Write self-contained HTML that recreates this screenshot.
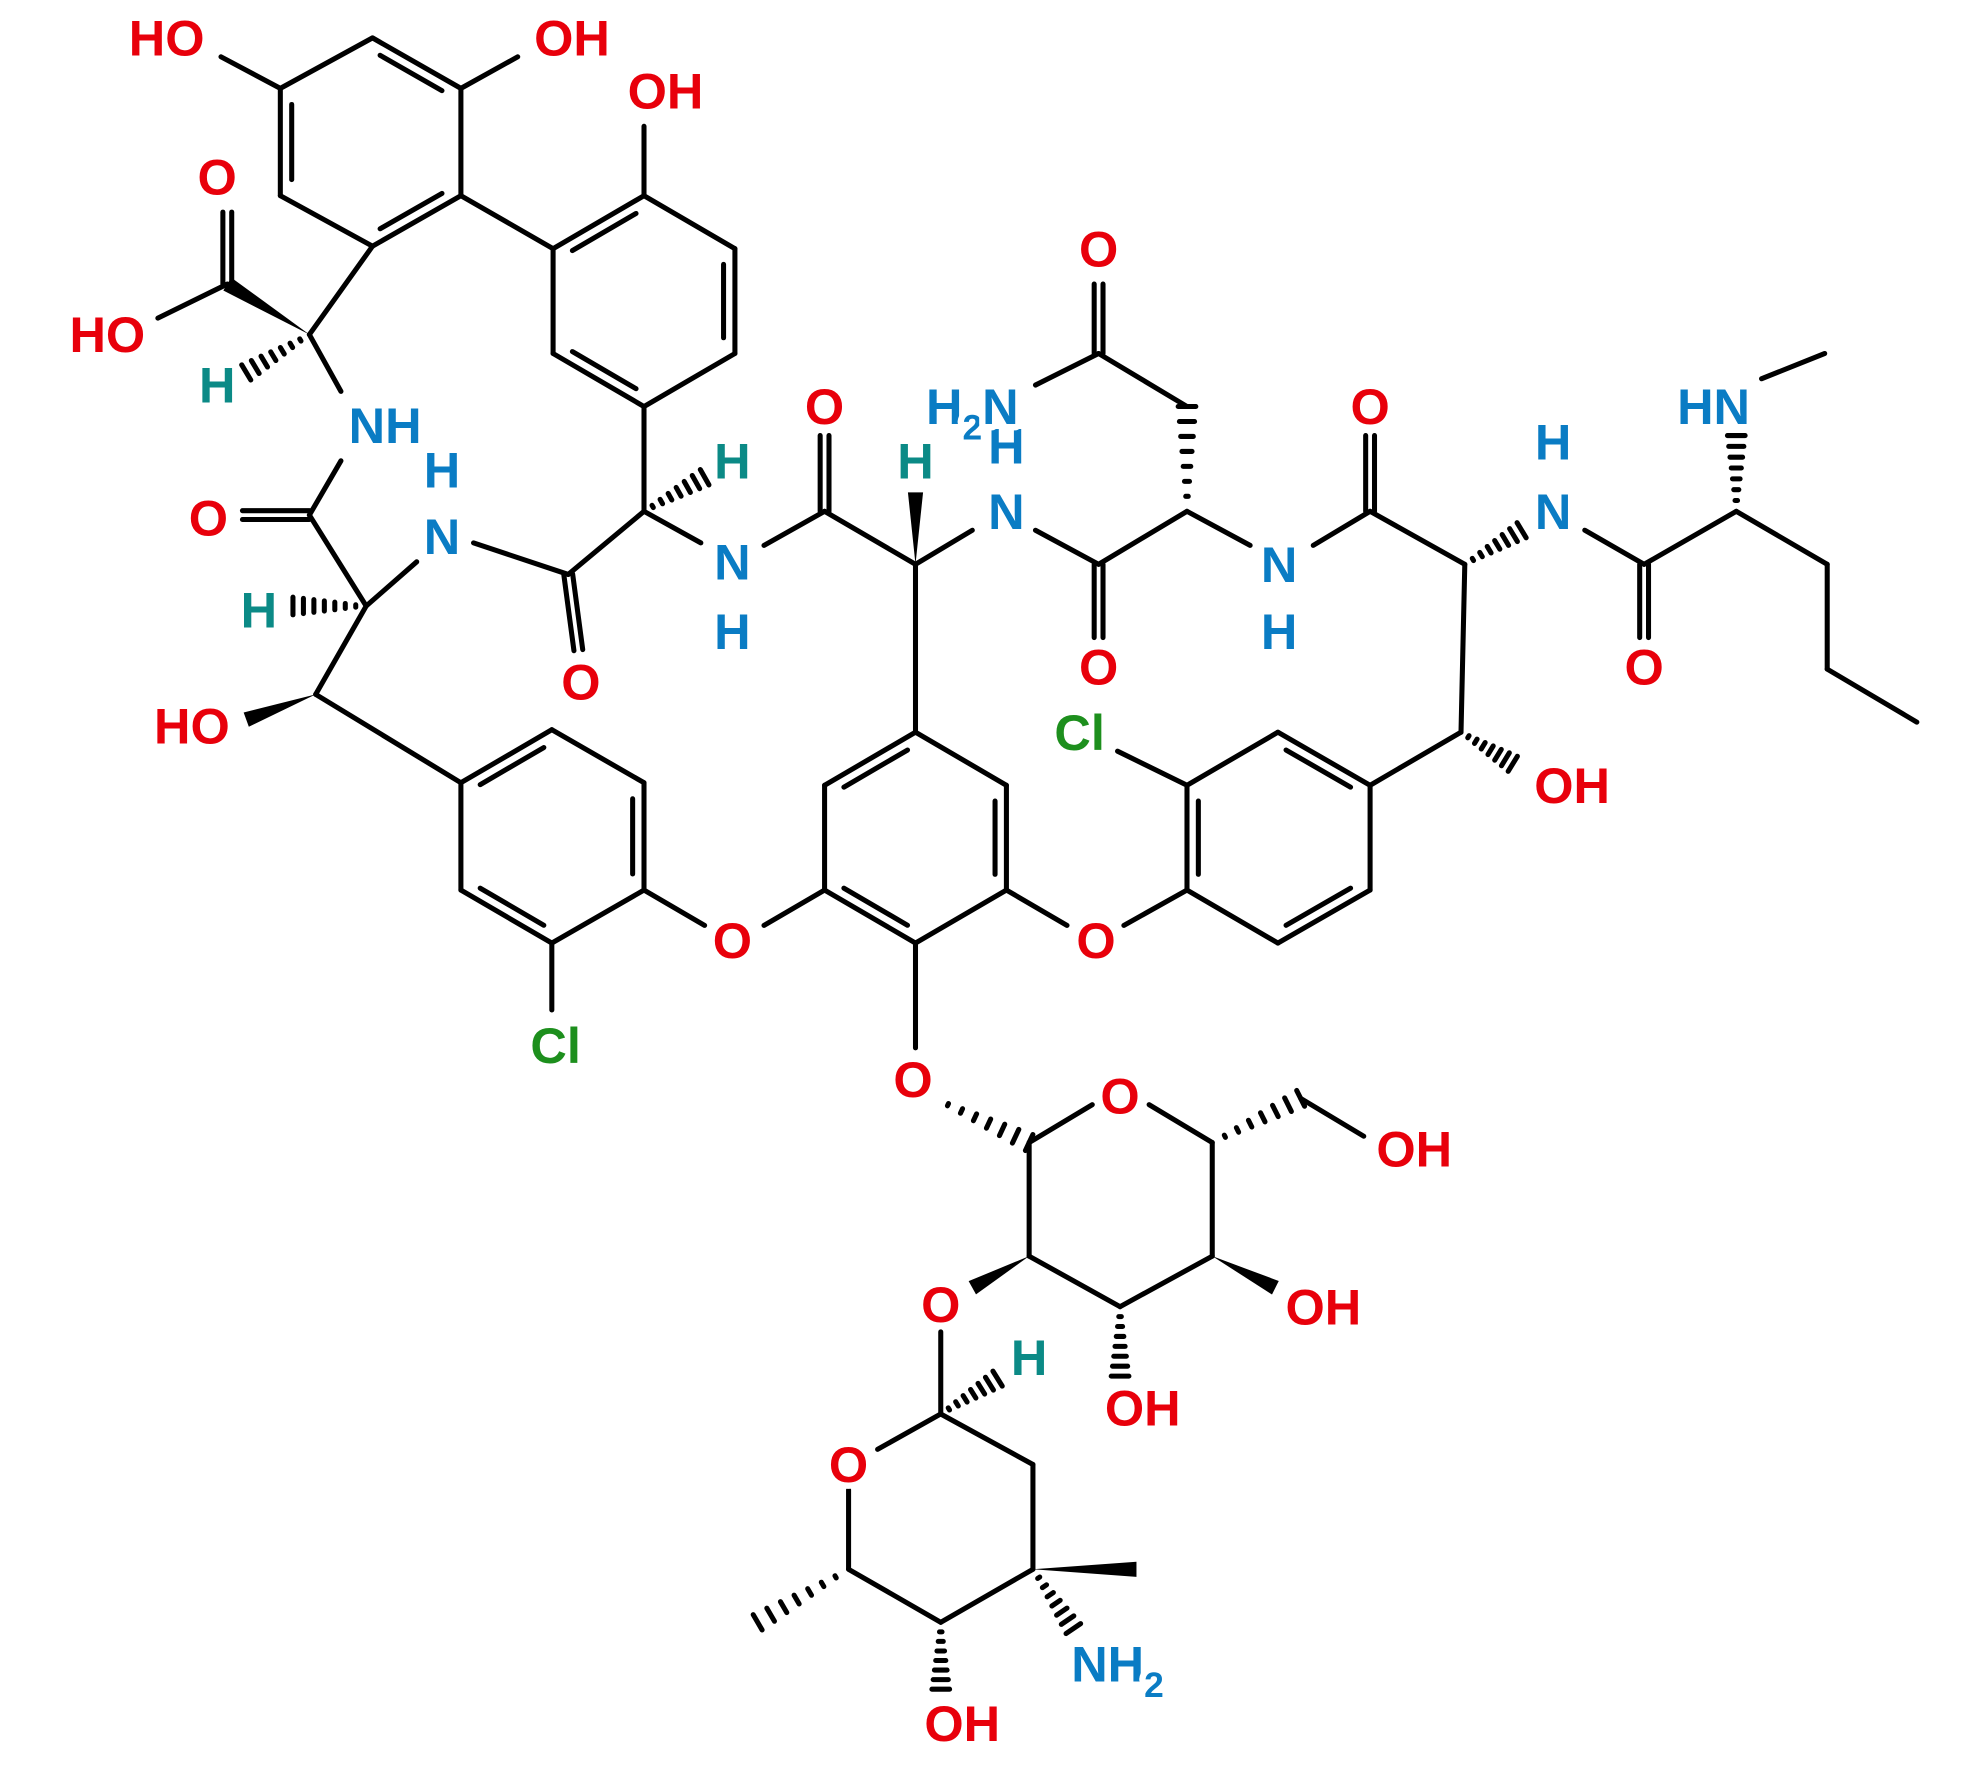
<!DOCTYPE html>
<html><head><meta charset="utf-8"><style>html,body{margin:0;padding:0;background:#fff}svg{display:block}
text{font-family:"Liberation Sans",Arial,sans-serif;font-weight:bold;font-size:40px;paint-order:stroke;stroke:#fff;stroke-width:10px;stroke-linejoin:round}
.O{fill:#e8000b}.N{fill:#0a7cc4}.H{fill:#0b8a86}.C{fill:#1d8f1d}</style></head><body>
<svg id="s" width="1980" height="1770" viewBox="0 0 1568 1402" preserveAspectRatio="none" xmlns="http://www.w3.org/2000/svg">
<g id="b" stroke="#000" stroke-width="4" stroke-linecap="round" fill="none"></g>
<g id="w" fill="#000"></g>
<g id="t" text-anchor="middle"></g>
</svg>
<script>
const B=document.getElementById('b'),W=document.getElementById('w'),T=document.getElementById('t');
const NS='http://www.w3.org/2000/svg';
function L(a,b,c,d){const e=document.createElementNS(NS,'line');e.setAttribute('x1',a);e.setAttribute('y1',b);e.setAttribute('x2',c);e.setAttribute('y2',d);B.appendChild(e);}
function D(a,b,c,d,o){o=o||7;const dx=c-a,dy=d-b,l=Math.hypot(dx,dy),nx=-dy/l*o/2,ny=dx/l*o/2;L(a+nx,b+ny,c+nx,d+ny);L(a-nx,b-ny,c-nx,d-ny);}
function I(a,b,c,d,cx,cy){const mx=(a+c)/2,my=(b+d)/2;let vx=cx-mx,vy=cy-my;const l=Math.hypot(vx,vy);vx=vx/l*9;vy=vy/l*9;const k=0.15;L(a+(c-a)*k+vx,b+(d-b)*k+vy,c-(c-a)*k+vx,d-(d-b)*k+vy);}
function R(p,dbl){for(let i=0;i<6;i++){const a=p[i],b=p[(i+1)%6];L(a[0],a[1],b[0],b[1]);}const cx=p.reduce((s,q)=>s+q[0],0)/6,cy=p.reduce((s,q)=>s+q[1],0)/6;dbl.forEach(i=>{const a=p[i],b=p[(i+1)%6];I(a[0],a[1],b[0],b[1],cx,cy);});}
function WG(a,b,c,d){const dx=c-a,dy=d-b,l=Math.hypot(dx,dy),nx=-dy/l*6,ny=dx/l*6;const e=document.createElementNS(NS,'polygon');e.setAttribute('points',`${a},${b} ${c+nx},${d+ny} ${c-nx},${d-ny}`);W.appendChild(e);}
function HS(a,b,c,d){const dx=c-a,dy=d-b,l=Math.hypot(dx,dy),ux=-dy/l,uy=dx/l;for(let i=1;i<=7;i++){const t=i/7,x=a+dx*t,y=b+dy*t,h=t*7;L(x+ux*h,y+uy*h,x-ux*h,y-uy*h);}}
function X(x,y,s,c){const e=document.createElementNS(NS,'text');e.setAttribute('x',x);e.setAttribute('y',y+14);e.setAttribute('class',c);e.innerHTML=s;T.appendChild(e);}
R([[295,30],[365,70],[365,155],[295,195],[222,155],[222,70]],[0,2,4]);
L(222,70,175,45);L(365,70,410,45);
L(295,195,245,265);WG(245,265,180,225);D(180,225,180,168);L(180,225,125,252);HS(245,265,195,295);L(245,265,270,310);
L(365,155,438,197);
R([[438,197],[510,155],[582,197],[582,280],[510,322],[438,280]],[0,2,4]);
L(510,155,510,100);L(510,322,510,405);HS(510,405,558,378);L(510,405,555,430);
L(510,405,450,455);D(450,455,458,515);L(450,455,375,430);L(330,445,290,480);
L(290,480,245,408);D(245,408,192,408);L(245,408,270,365);HS(290,480,232,480);
L(290,480,250,550);WG(250,550,195,570);L(250,550,365,620);
R([[365,620],[437,578],[510,620],[510,705],[437,747],[365,705]],[0,2,4]);
L(437,747,437,800);L(510,705,558,733);L(605,733,653,705);
R([[725,580],[797,622],[797,705],[725,747],[653,705],[653,622]],[1,3,5]);
L(797,705,845,733);L(890,733,940,705);
R([[940,705],[940,622],[1012,580],[1085,622],[1085,705],[1012,747]],[0,2,4]);
L(940,622,885,595);L(1085,622,1157,580);HS(1157,580,1198,605);L(1157,580,1160,447);
L(1160,447,1085,405);D(1085,405,1085,345);L(1085,405,1040,432);L(990,432,940,405);
HS(940,405,940,322);L(940,322,870,280);D(870,280,870,225);L(870,280,820,305);
L(940,405,870,447);D(870,447,870,505);L(870,447,820,420);L(770,420,725,447);
WG(725,447,725,390);L(725,447,653,405);D(653,405,653,345);L(653,405,605,432);L(725,447,725,580);
HS(1160,447,1205,420);L(1255,420,1302,447);D(1302,447,1302,505);L(1302,447,1375,405);
HS(1375,405,1375,345);L(1395,300,1445,280);L(1375,405,1447,447);L(1447,447,1447,530);L(1447,530,1518,572);
L(725,747,725,830);HS(740,870,815,905);
L(815,905,865,875);L(910,875,960,905);L(960,905,960,995);L(960,995,887,1035);L(887,1035,815,995);L(815,995,815,905);
HS(960,905,1030,870);L(1030,870,1080,900);WG(960,995,1010,1020);HS(887,1035,887,1090);WG(815,995,770,1020);
L(745,1055,745,1120);HS(745,1120,790,1092);L(745,1120,695,1148);L(745,1120,818,1160);L(818,1160,818,1243);
L(672,1180,672,1243);L(672,1243,745,1285);L(745,1285,818,1243);WG(818,1243,900,1243);HS(818,1243,850,1290);
HS(745,1285,745,1338);HS(672,1243,600,1285);
X(132,30,'HO','O');X(453,30,'OH','O');X(527,72,'OH','O');X(172,140,'O','O');X(85,265,'HO','O');X(172,305,'H','H');
X(305,337,'NH','N');X(350,372,'H','N');X(350,425,'N','N');X(165,410,'O','O');X(205,483,'H','H');X(152,575,'HO','O');
X(580,365,'H','H');X(580,445,'N','N');X(580,500,'H','N');X(460,540,'O','O');X(653,322,'O','O');X(725,365,'H','H');
X(797,353,'H','N');X(797,405,'N','N');X(770,322,'H<tspan dy="12" font-size="28">2</tspan><tspan dy="-12">N</tspan>','N');
X(870,197,'O','O');X(870,528,'O','O');X(1013,447,'N','N');X(1013,500,'H','N');X(1085,322,'O','O');
X(1230,350,'H','N');X(1230,405,'N','N');X(1302,528,'O','O');X(1357,322,'HN','N');X(1245,622,'OH','O');
X(855,580,'Cl','C');X(440,828,'Cl','C');X(580,745,'O','O');X(868,745,'O','O');X(723,855,'O','O');
X(887,868,'O','O');X(1120,910,'OH','O');X(1048,1035,'OH','O');X(905,1115,'OH','O');X(745,1033,'O','O');
X(815,1075,'H','H');X(672,1160,'O','O');X(885,1318,'NH<tspan dy="12" font-size="28">2</tspan>','N');X(762,1365,'OH','O');
</script>
</body></html>
